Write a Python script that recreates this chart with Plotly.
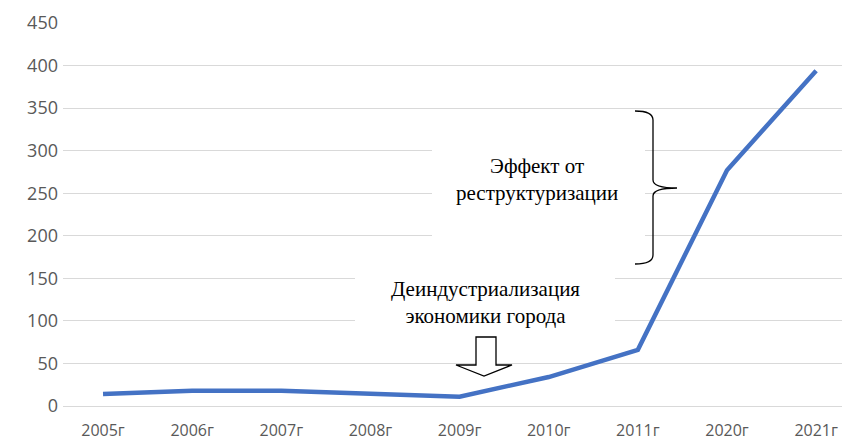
import plotly.graph_objects as go

categories = ["2005г", "2006г", "2007г", "2008г", "2009г", "2010г", "2011г", "2020г", "2021г"]
values = [14, 18, 18, 14, 11, 34, 66, 277, 394]
y_ticks = [0, 50, 100, 150, 200, 250, 300, 350, 400, 450]

# the page body has an 8px margin; compensate so the chart lands where the reference has it
OFF = 8
W, H = 850 - OFF, 441 - OFF
L, R, T, B = 63 - OFF, 0, 23 - OFF, 35
PW, PH = W - L - R, H - T - B


def px(x):
    return (x - OFF - L) / PW


def py(y):
    return (H - B - (y - OFF)) / PH


fig = go.Figure()
fig.add_trace(go.Scatter(
    x=categories, y=values, mode="lines",
    line=dict(color="#4472C4", width=4.5),
    hoverinfo="skip", showlegend=False,
))

shapes = []
# white text boxes hiding gridlines
shapes.append(dict(type="rect", xref="paper", yref="paper",
                   x0=px(432), x1=px(645), y0=py(255), y1=py(120),
                   fillcolor="white", line=dict(width=0), layer="above"))
shapes.append(dict(type="rect", xref="paper", yref="paper",
                   x0=px(355), x1=px(615), y0=py(335), y1=py(258),
                   fillcolor="white", line=dict(width=0), layer="above"))
# block arrow
arrow_path = (f"M {px(476)} {py(337)} L {px(496)} {py(337)} L {px(496)} {py(365)} "
              f"L {px(512)} {py(365)} L {px(484)} {py(376)} L {px(456)} {py(365)} "
              f"L {px(476)} {py(365)} Z")
shapes.append(dict(type="path", xref="paper", yref="paper", path=arrow_path,
                   fillcolor="white", line=dict(color="black", width=1.3), layer="above"))
# curly brace
brace = (f"M {px(635)} {py(111)} Q {px(653)} {py(111)} {px(653)} {py(120)} "
         f"L {px(653)} {py(180)} Q {px(653)} {py(188)} {px(677)} {py(188)} "
         f"Q {px(653)} {py(188)} {px(653)} {py(196)} "
         f"L {px(653)} {py(255)} Q {px(653)} {py(264)} {px(635)} {py(264)}")
shapes.append(dict(type="path", xref="paper", yref="paper", path=brace,
                   line=dict(color="black", width=1.3), layer="above"))

annotations = [
    dict(xref="paper", yref="paper", x=px(537), y=py(179),
         text="Эффект от<br>реструктуризации", showarrow=False,
         font=dict(family="Liberation Serif", size=21, color="black"),
         xanchor="center", yanchor="middle"),
    dict(xref="paper", yref="paper", x=px(485), y=py(302),
         text="Деиндустриализация<br>экономики города", showarrow=False,
         font=dict(family="Liberation Serif", size=21, color="black"),
         xanchor="center", yanchor="middle"),
]

fig.update_layout(
    width=W, height=H,
    margin=dict(l=L, r=R, t=T, b=B, pad=0, autoexpand=False),
    paper_bgcolor="white", plot_bgcolor="white",
    font=dict(family="Open Sans", size=17, color="#595959"),
    shapes=shapes, annotations=annotations,
    xaxis=dict(type="category", range=[-0.449, 8.38], showgrid=False,
               showline=False, ticks="", ticklabelstandoff=13,
               tickfont=dict(size=16), automargin=False),
    yaxis=dict(range=[0, 450], tickvals=y_ticks, showgrid=True,
               gridcolor="#d9d9d9", gridwidth=1, zeroline=True,
               zerolinecolor="#d9d9d9", zerolinewidth=1, showline=False,
               ticks="", ticklabelstandoff=4, tickfont=dict(size=18),
               automargin=False),
)

fig.write_html("out.html")
